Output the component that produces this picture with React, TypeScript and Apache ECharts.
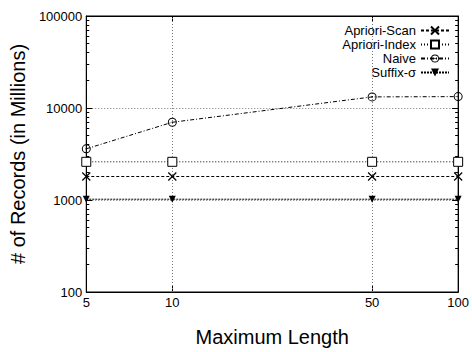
import React, { useEffect, useRef } from "react";
import * as echarts from "echarts";

const lengths = [5, 10, 50, 100];
const aprioriScan = [1800, 1800, 1800, 1800];
const aprioriIndex = [2600, 2600, 2600, 2600];
const naive = [3600, 7000, 13200, 13300];
const suffix = [1020, 1020, 1020, 1020];
const xTickValues = [5, 10, 50, 100];
const xGridValues = [10, 50];
const yMajorValues = [100, 1000, 10000, 100000];
const yMinorValues = [
  200, 300, 400, 500, 600, 700, 800, 900,
  2000, 3000, 4000, 5000, 6000, 7000, 8000, 9000,
  20000, 30000, 40000, 50000, 60000, 70000, 80000, 90000,
];

const FONT = "'Liberation Sans', Arial, Helvetica, sans-serif";
const CROSS = "path://M0,0L10,10M10,0L0,10";
const DOTCIRCLE =
  "path://M10,0A10,10,0,1,1,10,20A10,10,0,1,1,10,0ZM10,2.2A7.8,7.8,0,1,0,10,17.8A7.8,7.8,0,1,0,10,2.2ZM10,8.2A1.8,1.8,0,1,1,10,11.8A1.8,1.8,0,1,1,10,8.2Z";

export default function App() {
  const ref = useRef<HTMLDivElement>(null);
  useEffect(() => {
    if (!ref.current) return;
    const chart = echarts.init(ref.current, undefined, { renderer: "svg" });
    const pair = (ys: number[]) => lengths.map((x, i) => [x, ys[i]]);
    const yBase = { type: "log", logBase: 10, min: 100, max: 100000 } as any;
    const xBase = { type: "log", logBase: 10, min: 5, max: 100 } as any;
    const lineBase = {
      type: "line",
      symbolKeepAspect: true,
      xAxisIndex: 0,
      yAxisIndex: 0,
    };
    chart.setOption({
      animation: false,
      textStyle: { fontFamily: FONT },
      grid: {
        left: 81,
        top: 16,
        right: 13,
        bottom: 60,
        show: true,
        borderColor: "#000",
        borderWidth: 1,
        backgroundColor: "transparent",
      },
      legend: {
        orient: "vertical",
        right: 17,
        top: 19,
        align: "right",
        itemWidth: 28,
        itemHeight: 10,
        itemGap: 1,
        textStyle: { fontSize: 13, color: "#000", fontFamily: FONT },
        data: ["Apriori-Scan", "Apriori-Index", "Naive", "Suffix-σ"],
      },
      xAxis: [
        {
          ...xBase,
          position: "bottom",
          name: "Maximum Length",
          nameLocation: "middle",
          nameGap: 35,
          nameTextStyle: { fontSize: 20, color: "#000", fontFamily: FONT },
          axisLine: { show: true, lineStyle: { color: "#000" } },
          axisTick: { show: true, inside: true, length: 6, customValues: xTickValues, lineStyle: { color: "#000" } },
          axisLabel: { customValues: xTickValues, fontSize: 13, color: "#000", margin: 4, fontFamily: FONT },
          splitLine: { show: false },
        },
        {
          ...xBase,
          position: "top",
          axisLine: { show: true, lineStyle: { color: "#000" } },
          axisTick: { show: true, inside: true, length: 6, customValues: xTickValues, lineStyle: { color: "#000" } },
          axisLabel: { show: false },
          splitLine: { show: false },
        },
      ],
      yAxis: [
        {
          ...yBase,
          position: "left",
          name: "# of Records (in Millions)",
          nameLocation: "middle",
          nameGap: 52,
          nameTextStyle: { fontSize: 20, color: "#000", fontFamily: FONT },
          axisLine: { show: true, lineStyle: { color: "#000" } },
          axisTick: { show: true, inside: true, length: 6, lineStyle: { color: "#000" } },
          axisLabel: {
            fontSize: 13,
            color: "#000",
            margin: 4,
            fontFamily: FONT,
            formatter: (v: number) => String(Math.round(v)),
          },
          splitLine: { show: true, lineStyle: { type: [1, 2], color: "#777", width: 1 } },
        },
        {
          ...yBase,
          position: "left",
          axisLine: { show: false },
          axisTick: { show: true, inside: true, length: 3, customValues: yMinorValues, lineStyle: { color: "#000" } },
          axisLabel: { show: false },
          splitLine: { show: false },
        },
        {
          ...yBase,
          position: "right",
          axisLine: { show: true, lineStyle: { color: "#000" } },
          axisTick: { show: true, inside: true, length: 6, customValues: yMajorValues, lineStyle: { color: "#000" } },
          axisLabel: { show: false },
          splitLine: { show: false },
        },
        {
          ...yBase,
          position: "right",
          axisLine: { show: false },
          axisTick: { show: true, inside: true, length: 3, customValues: yMinorValues, lineStyle: { color: "#000" } },
          axisLabel: { show: false },
          splitLine: { show: false },
        },
      ],
      series: [
        {
          ...lineBase,
          name: "Apriori-Scan",
          data: pair(aprioriScan),
          symbol: CROSS,
          symbolSize: 8,
          itemStyle: { color: "none", borderColor: "#000", borderWidth: 1.2 },
          lineStyle: { color: "#000", width: 1, type: [3, 2] },
          markLine: {
            silent: true,
            symbol: "none",
            label: { show: false },
            lineStyle: { type: [1, 2], color: "#777", width: 1 },
            data: xGridValues.map((v) => ({ xAxis: v })),
          },
          z: 5,
        },
        {
          ...lineBase,
          name: "Apriori-Index",
          data: pair(aprioriIndex),
          symbol: "rect",
          symbolSize: 9,
          itemStyle: { color: "#fff", borderColor: "#000", borderWidth: 1 },
          lineStyle: { color: "#000", width: 1, type: [1, 2] },
          z: 5,
        },
        {
          ...lineBase,
          name: "Naive",
          data: pair(naive),
          symbol: DOTCIRCLE,
          symbolSize: 9,
          itemStyle: { color: "#000", borderWidth: 0 },
          lineStyle: { color: "#000", width: 1, type: [4, 2, 1, 2] },
          z: 5,
        },
        {
          ...lineBase,
          name: "Suffix-σ",
          data: pair(suffix),
          symbol: "triangle",
          symbolRotate: 180,
          symbolSize: 7,
          itemStyle: { color: "#000" },
          lineStyle: { color: "#000", width: 1, type: [2, 1] },
          z: 5,
        },
      ],
    });
    return () => chart.dispose();
  }, []);
  return (
    <div
      ref={ref}
      style={{ position: "fixed", left: 0, top: 0, width: 472, height: 352, background: "#fff" }}
    />
  );
}
